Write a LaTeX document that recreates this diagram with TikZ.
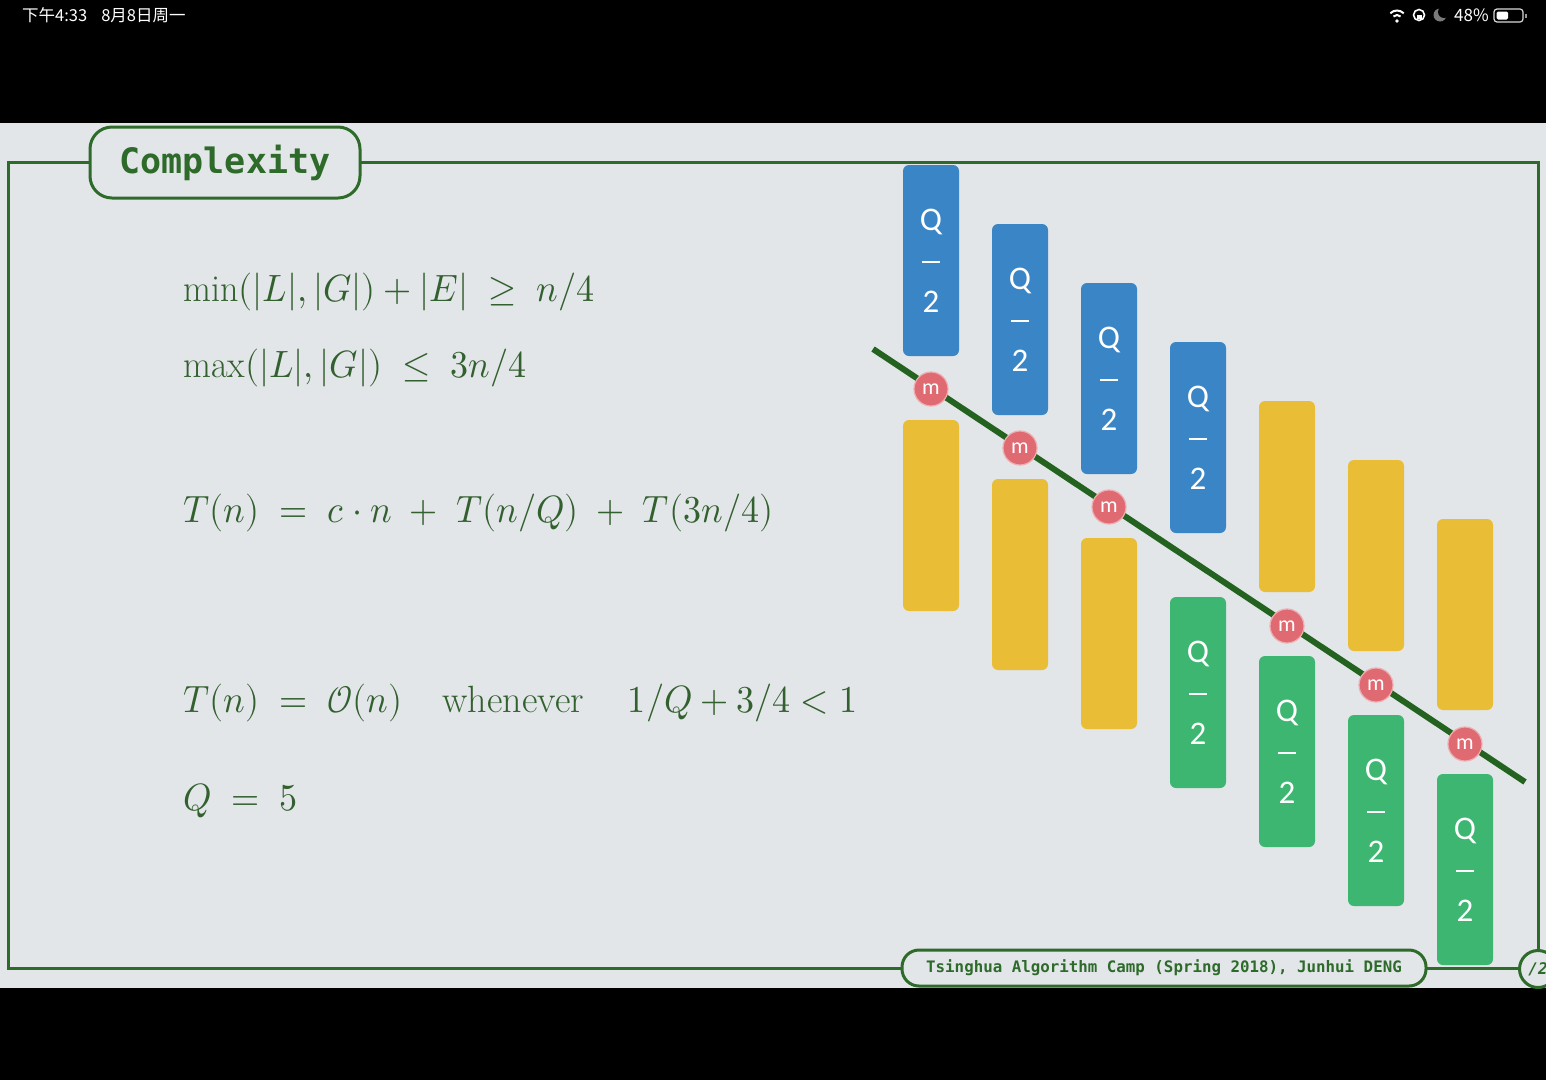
\documentclass[tikz,border=0pt]{standalone}
\usepackage{amsmath}
\usepackage{graphicx}
\usepackage{fontspec}
\usepackage{unicode-math}
\setmathfont{Latin Modern Math}
\newfontfamily\cjk{Noto Sans CJK SC}
\newfontfamily\monob{DejaVu Sans Mono}
\newfontfamily\calib{Carlito}
\definecolor{slidebg}{HTML}{E2E6E9}
\definecolor{framegreen}{HTML}{2E6B2A}
\definecolor{mathgreen}{HTML}{33602F}
\definecolor{qblue}{HTML}{3A85C6}
\definecolor{qyellow}{HTML}{E9BE36}
\definecolor{qgreen}{HTML}{3CB670}
\definecolor{mred}{HTML}{E06A72}
\definecolor{splitgreen}{HTML}{23631F}
\definecolor{moongray}{HTML}{7A7A7A}
\newcommand{\qhalf}{Q\\\rule[8pt]{18pt}{2.5pt}\\2}
\newcommand{\narrowmath}[1]{\scalebox{0.95}[1]{$#1$}}
\tikzset{
  qbar/.style={rounded corners=6pt, minimum width=56pt, minimum height=191pt,
    inner sep=0pt, text=white, align=center, font=\calib\fontsize{33}{41}\selectfont},
  bluebar/.style={qbar, fill=qblue},
  yellowbar/.style={qbar, fill=qyellow},
  greenbar/.style={qbar, fill=qgreen},
  mnode/.style={circle, fill=mred, draw=mred!55!white, line width=1.2pt,
    minimum size=34pt, inner sep=0pt, text=white, font=\calib\fontsize{22}{22}\selectfont},
  eq/.style={anchor=base west, inner sep=0pt, text=mathgreen,
    font=\fontsize{38}{46}\selectfont},
  framebox/.style={draw=framegreen, line width=3pt, fill=slidebg, text=framegreen,
    inner sep=0pt}
}
\begin{document}
\begin{tikzpicture}[x=1pt, y=-1pt]
\useasboundingbox (0,0) rectangle (1546,1080);
\fill[black] (0,0) rectangle (1546,1080);
\fill[slidebg] (0,123) rectangle (1546,988);

% status bar
\node[anchor=base west, inner sep=0pt, text=white, font=\cjk\fontsize{16.5}{16.5}\selectfont] (clock) at (22,21) {下午4:33\hspace{14pt}8月8日周一};
\draw[white, line width=2pt] (1397,20) ++(225:5) arc (225:315:5);
\draw[white, line width=2pt] (1397,20) ++(225:9.5) arc (225:315:9.5);
\fill[white] (1397,21) circle (1.8);
\draw[white, line width=1.6pt] (1419,15) circle (5.5);
\fill[white] (1416.5,14.5) rectangle (1421.5,18.5);
\fill[moongray] (1440,15) circle (6.5);
\fill[black] (1444,12) circle (6);
\node[anchor=base west, inner sep=0pt, text=white, font=\cjk\fontsize{17}{17}\selectfont] (batt) at (1454,21) {48\%};
\draw[white!85!black, line width=1.2pt, rounded corners=3pt] (1494,9) rectangle (1523,22);
\fill[white, rounded corners=1.5pt] (1496.5,11.5) rectangle (1508,19.5);
\fill[white!60!black] (1525,13.5) rectangle (1527,17.5);

% slide frame
\draw[framegreen, line width=3pt] (8,162) rectangle (1538,968);
\node[framebox, rounded corners=22pt, minimum width=270pt, minimum height=71pt,
  font=\monob\bfseries\fontsize{35}{35}\selectfont] (title) at (225,162.5) {\raisebox{-3pt}{Complexity}};
\node[framebox, rounded corners=17pt, minimum width=524pt, minimum height=36pt,
  font=\monob\bfseries\fontsize{15.8}{15.8}\selectfont] (footer) at (1164,968) {Tsinghua Algorithm Camp (Spring 2018), Junhui DENG};
\node[framebox, circle, minimum size=37pt, font=\monob\bfseries\itshape\fontsize{16}{16}\selectfont] (page) at (1538,969) {/2};

% formulas
\node[eq] (e1) at (183,301) {\narrowmath{\min(|L|,|G|)+|E|\;\geq\;n/4}};
\node[eq] (e2) at (183,377) {\narrowmath{\max(|L|,|G|)\;\leq\;3n/4}};
\node[eq] (e3) at (183,522) {\narrowmath{T(n)\;=\;c\cdot n\;+\;T(n/Q)\;+\;T(3n/4)}};
\node[eq] (e4) at (183,712) {\narrowmath{T(n)\;=\;\mathcal{O}(n)}\hspace{40pt}whenever\hspace{44pt}\narrowmath{1/Q+3/4<1}};
\node[eq] (e5) at (183,810) {\narrowmath{Q\;=\;5}};

% groups of five, split at the median
\node[bluebar] (hi1) at (931,260.5) {\qhalf};
\node[bluebar] (hi2) at (1020,319.5) {\qhalf};
\node[bluebar] (hi3) at (1109,378.5) {\qhalf};
\node[bluebar] (hi4) at (1198,437.5) {\qhalf};
\node[yellowbar] (hi5) at (1287,496.5) {};
\node[yellowbar] (hi6) at (1376,555.5) {};
\node[yellowbar] (hi7) at (1465,614.5) {};
\node[yellowbar] (lo1) at (931,515.5) {};
\node[yellowbar] (lo2) at (1020,574.5) {};
\node[yellowbar] (lo3) at (1109,633.5) {};
\node[greenbar] (lo4) at (1198,692.5) {\qhalf};
\node[greenbar] (lo5) at (1287,751.5) {\qhalf};
\node[greenbar] (lo6) at (1376,810.5) {\qhalf};
\node[greenbar] (lo7) at (1465,869.5) {\qhalf};

\coordinate (cutA) at (873,349);
\coordinate (cutB) at (1525,782);
\draw[splitgreen, line width=6pt] (cutA) -- (cutB);

\node[mnode] (m1) at (931,389) {m};
\node[mnode] (m2) at (1020,448) {m};
\node[mnode] (m3) at (1109,507) {m};
\node[mnode] (m5) at (1287,626) {m};
\node[mnode] (m6) at (1376,685) {m};
\node[mnode] (m7) at (1465,744) {m};
\end{tikzpicture}
\end{document}
